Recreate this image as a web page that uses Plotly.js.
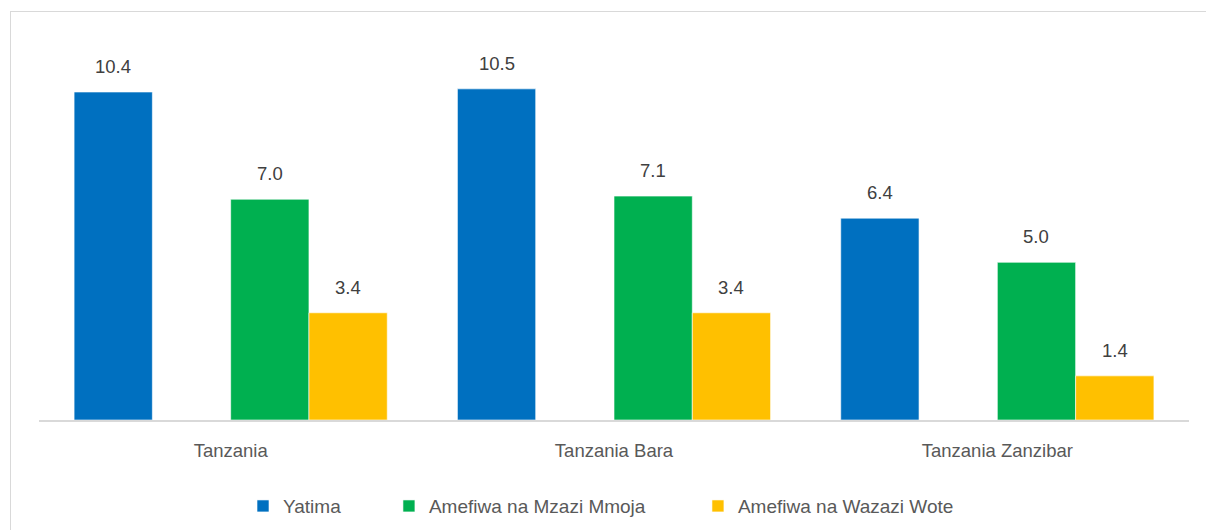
<!DOCTYPE html>
<html>
<head>
<meta charset="utf-8">
<script src="https://cdn.plot.ly/plotly-3.0.1.min.js"></script>
<style>
html,body{margin:0;padding:0;background:#fff;}
#chart{width:1206px;height:530px;position:absolute;left:0;top:0;}
#frame{position:absolute;left:10px;top:11px;width:1210px;height:540px;border:1px solid #d9d9d9;pointer-events:none;box-sizing:border-box;}
</style>
</head>
<body>
<div id="chart"></div>
<div id="frame"></div>
<script>
const categories = ["Tanzania", "Tanzania Bara", "Tanzania Zanzibar"];
const yatima = [10.4, 10.5, 6.4];
const gapSeries = [null, null, null];
const mzaziMmoja = [7.0, 7.1, 5.0];
const wazaziWote = [3.4, 3.4, 1.4];

const seriesNames = ["Yatima", "", "Amefiwa na Mzazi Mmoja", "Amefiwa na Wazazi Wote"];
const seriesValues = [yatima, gapSeries, mzaziMmoja, wazaziWote];
const seriesColors = ["#0070C0", "#ffffff", "#00B050", "#FFC000"];
const legendIds = ["legend", null, "legend2", "legend3"];

const FONT = "Liberation Sans, Arial, sans-serif";
const BARGAP = 0.183;
const nSlots = seriesValues.length;

const traces = seriesValues.map((vals, i) => {
  const t = {
    type: "bar",
    name: seriesNames[i],
    x: categories,
    y: vals,
    showlegend: seriesNames[i] !== "",
    marker: {color: seriesColors[i], line: {color: "rgba(255,255,255,0.6)", width: 1}},
    hoverinfo: "skip"
  };
  if (legendIds[i]) t.legend = legendIds[i];
  return t;
});

// data labels placed through the category axis, offset to each bar's slot in the group
const annotations = [];
seriesValues.forEach((vals, i) => {
  const slotOffset = (i - (nSlots - 1) / 2) * (1 - BARGAP) / nSlots;
  vals.forEach((v, j) => {
    if (v == null) return;
    annotations.push({
      xref: "x", yref: "y",
      x: j + slotOffset, y: v,
      text: v.toFixed(1),
      showarrow: false,
      xanchor: "center", yanchor: "bottom",
      yshift: 13,
      font: {family: FONT, size: 18.5, color: "#404040"}
    });
  });
});

const legendBase = {
  orientation: "h", yanchor: "middle", y: -0.21, xanchor: "left",
  font: {family: FONT, size: 19, color: "#595959"},
  itemwidth: 30, bgcolor: "rgba(0,0,0,0)"
};

const layout = {
  width: 1206,
  height: 530,
  margin: {l: 39, r: 17, t: 10, b: 110, autoexpand: false},
  paper_bgcolor: "rgba(0,0,0,0)",
  plot_bgcolor: "rgba(0,0,0,0)",
  barmode: "group",
  bargap: BARGAP,
  bargroupgap: 0,
  font: {family: FONT, size: 18.5, color: "#595959"},
  xaxis: {
    showline: true, linecolor: "#d9d9d9", linewidth: 2,
    ticks: "", showgrid: false, zeroline: false, automargin: false,
    ticklabelstandoff: 13,
    tickfont: {family: FONT, size: 18.5, color: "#595959"}
  },
  yaxis: {range: [0, 13], visible: false, showgrid: false, zeroline: false, automargin: false},
  showlegend: true,
  legend: Object.assign({}, legendBase, {x: 0.1774}),
  legend2: Object.assign({}, legendBase, {x: 0.3043}),
  legend3: Object.assign({}, legendBase, {x: 0.573}),
  annotations: annotations
};

Plotly.newPlot("chart", traces, layout, {staticPlot: true});
</script>
</body>
</html>
